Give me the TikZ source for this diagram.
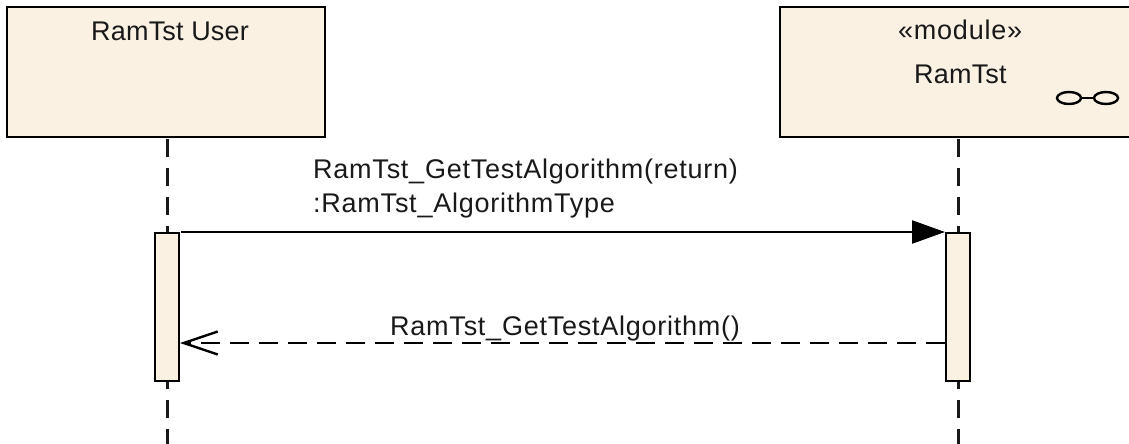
\documentclass[tikz,border=0pt]{standalone}
\usepackage{fontspec}
\setmainfont{Liberation Sans}
\usetikzlibrary{arrows.meta,shapes.geometric}
\definecolor{boxfill}{HTML}{FBF1E3}
\newfontfamily\widefont[LetterSpace=2.8]{Liberation Sans}
\newfontfamily\tightfont[LetterSpace=0.7]{Liberation Sans}
\tikzset{
  lifebox/.style={draw=black,line width=2.4pt,fill=boxfill,minimum width=#1,minimum height=130pt,inner sep=0pt,anchor=north west},
  actbox/.style={draw=black,line width=2.4pt,fill=boxfill,minimum width=24pt,minimum height=148pt,inner sep=0pt,anchor=north west},
  lifeline/.style={line width=2.4pt,dash pattern=on 18pt off 11pt,draw=black!90},
  txt/.style={inner sep=0pt,font=\widefont\fontsize{27}{30}\selectfont,text=black!90,anchor=base west},
  txtb/.style={txt,font=\tightfont\fontsize{27}{30}\selectfont},
  eye/.style={draw=black,line width=2.4pt,ellipse,minimum width=24pt,minimum height=12pt,inner sep=0pt},
  msgline/.style={line width=2.4pt,draw=black},
}
\begin{document}
\begin{tikzpicture}[x=1pt,y=-1pt]
\useasboundingbox (0,0) rectangle (1129,444);
\node[lifebox=318pt] (u) at (6,6) {};
\node[lifebox=360pt] (m) at (779,6) {};
\coordinate (ue) at (167.5,444);
\coordinate (me) at (958.5,444);
\coordinate (us) at (167.5,139);
\coordinate (ms) at (958.5,139);
\draw[lifeline] (us) -- (ue);
\draw[lifeline] (ms) -- (me);
\node[actbox] (ua) at (154,232) {};
\node[actbox] (ma) at (945,232) {};
\node[txtb] (t1) at (91,41) {RamTst User};
\node[txt] (t2) at (898,40) {«module»};
\node[txtb] (t3) at (914,83) {RamTst};
\node[txt] (t4) at (313,178) {RamTst\_GetTestAlgorithm(return)};
\node[txt] (t5) at (313,212) {:RamTst\_AlgorithmType};
\node[txt] (t6) at (390,335) {RamTst\_GetTestAlgorithm()};
\coordinate (a1) at (181,232);
\coordinate (a2) at (945,343);
\coordinate (a3) at (180,343);
\draw[msgline,-{Triangle[length=33pt,width=23pt]}] (a1) -- (ma.north west);
\draw[msgline,dash pattern=on 19pt off 10pt,-{Straight Barb[length=34pt,width=23pt,line width=2.4pt]}] (a2) -- (a3);
\node[eye] (e1) at (1069,98) {};
\node[eye] (e2) at (1106,98) {};
\draw[msgline] (e1) -- (e2);
\end{tikzpicture}
\end{document}
